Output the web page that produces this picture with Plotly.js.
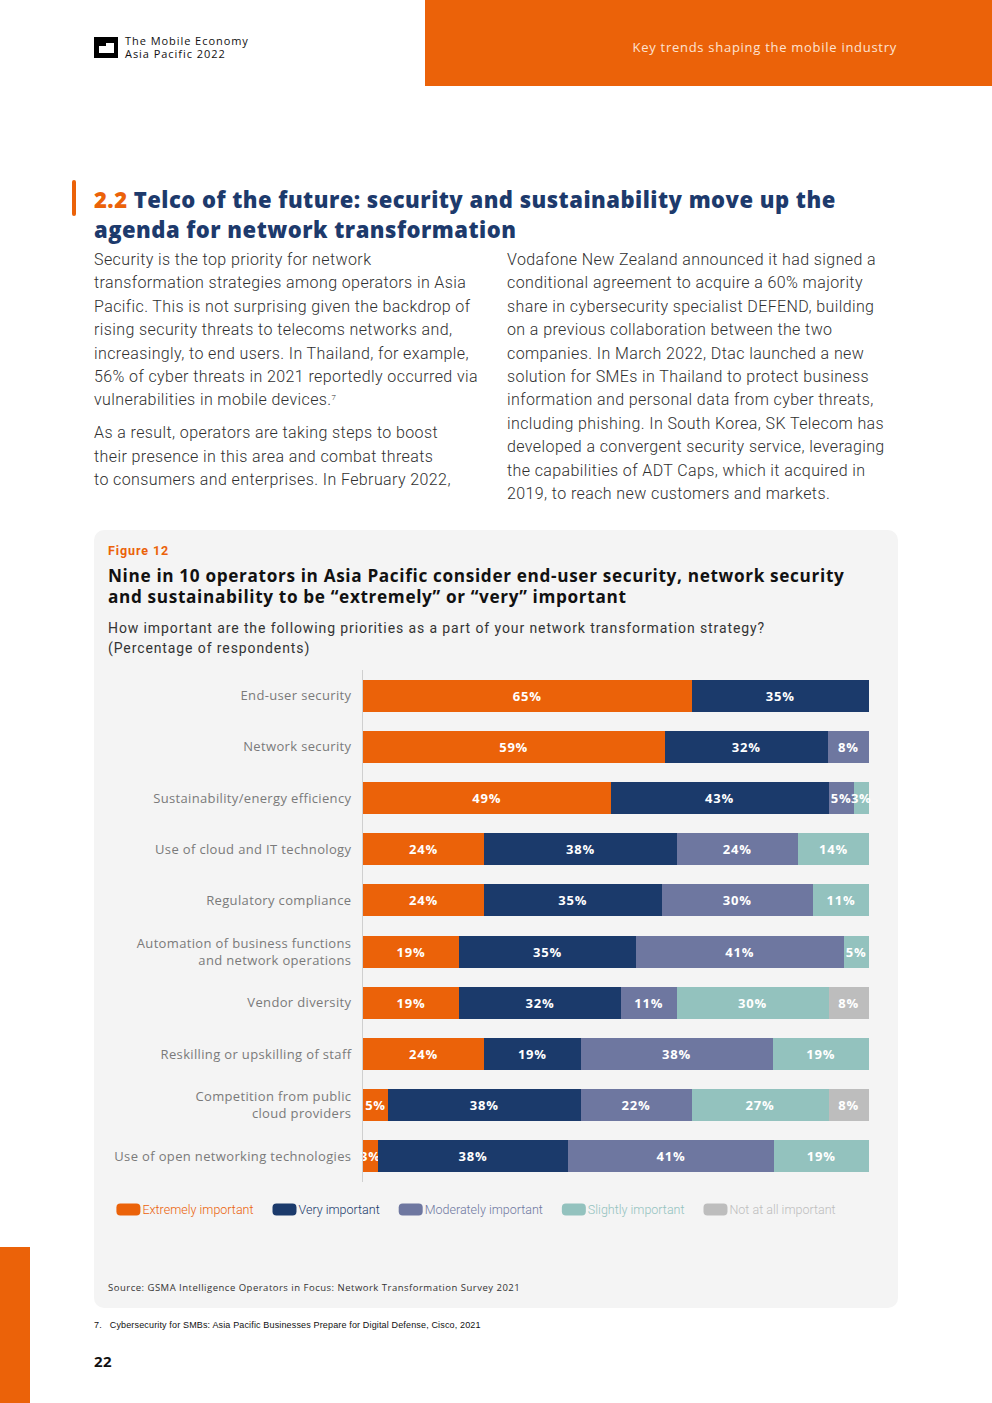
<!DOCTYPE html>
<html>
<head>
<meta charset="utf-8">
<script src="https://cdn.plot.ly/plotly-3.0.1.min.js"></script>
<style>
  html, body { margin: 0; padding: 0; background: #ffffff; }
  #page { position: relative; width: 992px; height: 1403px; overflow: hidden; background: #fff; font-family: Roboto, "Open Sans", sans-serif; }
  .abs { position: absolute; }
  #topbar { left: 425px; top: 0; width: 567px; height: 86px; background: #EB6209; }
  #toptext { right: 95px; top: 38px; font-family: "Open Sans", sans-serif; font-size: 13px; color: #fde3d2; letter-spacing: 0.72px; white-space: nowrap; }
  #logo { left: 94px; top: 37px; width: 24px; height: 21px; background: #000; }
  #logo .w1 { position: absolute; left: 5px; top: 9px; width: 15px; height: 7px; background: #fff; }
  #logo .w2 { position: absolute; left: 12px; top: 6px; width: 8px; height: 3px; background: #fff; }
  #logotext { left: 125px; top: 34px; font-family: "Open Sans", sans-serif; font-size: 11px; line-height: 13px; color: #111; letter-spacing: 0.95px; white-space: nowrap; }
  #hbar { left: 72px; top: 180px; width: 4px; height: 36px; background: #EB6209; border-radius: 2px; }
  #heading { left: 94px; top: 184px; font-family: "Open Sans", sans-serif; font-weight: 800; font-size: 22px; line-height: 30px; color: #1d3a6c; white-space: nowrap; letter-spacing: 0.48px; }
  #heading .num { color: #EB6209; }
  .body { font-family: Roboto, sans-serif; font-weight: 300; font-size: 16px; line-height: 23.4px; color: #2f2f2f; white-space: nowrap; letter-spacing: 0.4px; }
  .body p { margin: 0 0 9.6px 0; }
  .body sup { font-size: 8px; vertical-align: top; position: relative; top: -2px; }
  #col1 { left: 94px; top: 248px; }
  #col2 { left: 507px; top: 248px; }
  #figbox { left: 94px; top: 530px; width: 804px; height: 778px; background: #f4f4f4; border-radius: 10px; }
  #figlabel { left: 108px; top: 543px; font-family: Roboto, sans-serif; font-weight: 700; font-size: 12.5px; color: #EB6209; letter-spacing: 0.9px; }
  #figtitle { left: 108px; top: 565px; font-family: "Open Sans", sans-serif; font-weight: 700; font-size: 17.2px; line-height: 21px; color: #111; white-space: nowrap; letter-spacing: 0.65px; }
  #figsub { left: 108px; top: 618px; font-family: Roboto, sans-serif; font-weight: 400; font-size: 14px; line-height: 20px; color: #333; white-space: nowrap; letter-spacing: 0.9px; }
  #chart { left: 94px; top: 665px; width: 804px; height: 580px; }
  #source { left: 108px; top: 1281px; font-family: "Open Sans", sans-serif; font-size: 9.5px; color: #333; white-space: nowrap; letter-spacing: 0.5px; }
  #footnote { left: 94px; top: 1320px; font-family: "Liberation Sans", Arial, sans-serif; font-size: 9px; color: #111; white-space: nowrap; letter-spacing: 0.15px; }
  #pagenum { left: 94px; top: 1351px; font-family: "Open Sans", sans-serif; font-weight: 700; font-size: 15px; color: #111; letter-spacing: 0.5px; }
  #sidebar { left: 0; top: 1247px; width: 30px; height: 156px; background: #EB6209; }
  /* chart text styling */
  #chart .ytick text { letter-spacing: 0.35px; }
  #chart .bartext { letter-spacing: 0.8px; }
  #chart .legend .legendpoints path { transform: translate(26px, 0px) scale(1.333, 0.333); vector-effect: non-scaling-stroke; stroke-width: 8px !important; stroke-linejoin: round; }
</style>
</head>
<body>
<div id="page">
  <div id="topbar" class="abs"></div>
  <div id="toptext" class="abs">Key trends shaping the mobile industry</div>
  <div id="logo" class="abs"><div class="w2"></div><div class="w1"></div></div>
  <div id="logotext" class="abs">The Mobile Economy<br>Asia Pacific 2022</div>

  <div id="hbar" class="abs"></div>
  <div id="heading" class="abs"><span class="num">2.2</span> Telco of the future: security and sustainability move up the<br>agenda for network transformation</div>

  <div id="col1" class="abs body">
    <p>Security is the top priority for network<br>transformation strategies among operators in Asia<br>Pacific. This is not surprising given the backdrop of<br>rising security threats to telecoms networks and,<br>increasingly, to end users. In Thailand, for example,<br>56% of cyber threats in 2021 reportedly occurred via<br>vulnerabilities in mobile devices.<sup>7</sup></p>
    <p>As a result, operators are taking steps to boost<br>their presence in this area and combat threats<br>to consumers and enterprises. In February 2022,</p>
  </div>
  <div id="col2" class="abs body">
    <p>Vodafone New Zealand announced it had signed a<br>conditional agreement to acquire a 60% majority<br>share in cybersecurity specialist DEFEND, building<br>on a previous collaboration between the two<br>companies. In March 2022, Dtac launched a new<br>solution for SMEs in Thailand to protect business<br>information and personal data from cyber threats,<br>including phishing. In South Korea, SK Telecom has<br>developed a convergent security service, leveraging<br>the capabilities of ADT Caps, which it acquired in<br>2019, to reach new customers and markets.</p>
  </div>

  <div id="figbox" class="abs"></div>
  <div id="figlabel" class="abs">Figure 12</div>
  <div id="figtitle" class="abs">Nine in 10 operators in Asia Pacific consider end-user security, network security<br>and sustainability to be “extremely” or “very” important</div>
  <div id="figsub" class="abs">How important are the following priorities as a part of your network transformation strategy?<br>(Percentage of respondents)</div>
  <div id="chart" class="abs"></div>
  <div id="source" class="abs">Source: GSMA Intelligence Operators in Focus: Network Transformation Survey 2021</div>

  <div id="footnote" class="abs">7.&nbsp;&nbsp;&nbsp;Cybersecurity for SMBs: Asia Pacific Businesses Prepare for Digital Defense, Cisco, 2021</div>
  <div id="pagenum" class="abs">22</div>
  <div id="sidebar" class="abs"></div>
</div>

<script>
// ---- data ----
const categories = [
  'End-user security',
  'Network security',
  'Sustainability/energy efficiency',
  'Use of cloud and IT technology',
  'Regulatory compliance',
  'Automation of business functions<br>and network operations',
  'Vendor diversity',
  'Reskilling or upskilling of staff',
  'Competition from public<br>cloud providers',
  'Use of open networking technologies'
];
const extremelyImportant  = [65, 59, 49, 24, 24, 19, 19, 24, 5, 3];
const veryImportant       = [35, 32, 43, 38, 35, 35, 32, 19, 38, 38];
const moderatelyImportant = [null, 8, 5, 24, 30, 41, 11, 38, 22, 41];
const slightlyImportant   = [null, null, 3, 14, 11, 5, 30, 19, 27, 19];
const notAtAllImportant   = [null, null, null, null, null, null, 8, null, 8, null];

const seriesNames = ['Extremely important', 'Very important', 'Moderately important', 'Slightly important', 'Not at all important'];
const seriesColors = ['#EB6209', '#1B3A6B', '#6E77A0', '#93C2BE', '#BDBDBD'];
const seriesValues = [extremelyImportant, veryImportant, moderatelyImportant, slightlyImportant, notAtAllImportant];

const traces = seriesValues.map((vals, i) => ({
  type: 'bar',
  orientation: 'h',
  y: categories,
  x: vals,
  name: '<span style="color:' + seriesColors[i] + '">' + seriesNames[i] + '</span>',
  marker: { color: seriesColors[i], line: { width: 0.001, color: seriesColors[i] } },
  text: vals.map(v => v == null ? '' : v + '%'),
  texttemplate: '%{text}',
  textposition: 'inside',
  insidetextanchor: 'middle',
  constraintext: 'none',
  textangle: 0,
  textfont: { family: '"Open Sans", sans-serif', size: 13, color: '#ffffff', weight: 700 },
  hoverinfo: 'skip',
  cliponaxis: false
}));

const layout = {
  barmode: 'stack',
  barnorm: 'percent',
  bargap: 0.375,
  width: 804,
  height: 580,
  margin: { l: 269, r: 28, t: 5, b: 63, pad: 0 },
  paper_bgcolor: 'rgba(0,0,0,0)',
  plot_bgcolor: 'rgba(0,0,0,0)',
  showlegend: true,
  legend: {
    orientation: 'h',
    x: -0.514, xanchor: 'left',
    y: -0.025, yanchor: 'top',
    font: { family: 'Roboto, sans-serif', size: 12.5, color: '#555', weight: 300 },
    traceorder: 'normal',
    itemclick: false, itemdoubleclick: false,
    bgcolor: 'rgba(0,0,0,0)',
    tracegroupgap: 0
  },
  xaxis: {
    range: [0, 100.2],
    showgrid: false, zeroline: false, showline: false,
    showticklabels: false, ticks: '', fixedrange: true
  },
  yaxis: {
    autorange: 'reversed',
    showgrid: false, zeroline: false,
    showline: true, linecolor: '#cfcfcf', linewidth: 1,
    ticks: '', ticklabelstandoff: 8,
    tickfont: { family: '"Open Sans", sans-serif', size: 13, color: '#7a7a7a' },
    fixedrange: true
  }
};

Plotly.newPlot('chart', traces, layout, { displayModeBar: false, staticPlot: true });
</script>
</body>
</html>
